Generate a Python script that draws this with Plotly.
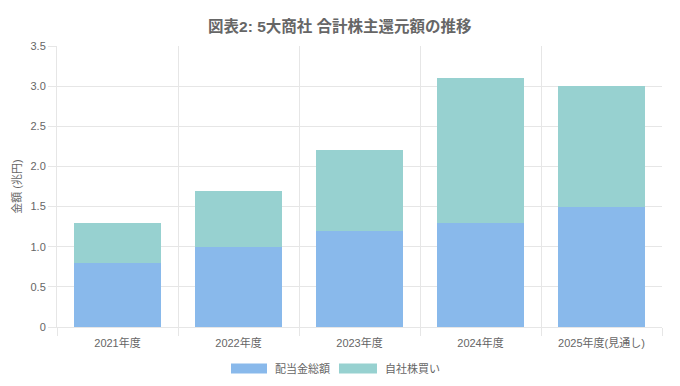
import plotly.graph_objects as go

categories = ["2021年度", "2022年度", "2023年度", "2024年度", "2025年度(見通し)"]
dividends = [0.8, 1.0, 1.2, 1.3, 1.5]
buybacks = [0.5, 0.7, 1.0, 1.8, 1.5]
y_tick_vals = [0, 0.5, 1.0, 1.5, 2.0, 2.5, 3.0, 3.5]
y_tick_text = ["0", "0.5", "1.0", "1.5", "2.0", "2.5", "3.0", "3.5"]
series_names = ["配当金総額", "自社株買い"]
series_colors = ["#89B9EB", "#97D1D0"]

FONT = "Liberation Sans, Helvetica, Arial, Noto Sans CJK JP, sans-serif"
GRID = "#e6e6e6"

fig = go.Figure()
fig.add_trace(go.Bar(x=categories, y=dividends, name=series_names[0],
                     marker=dict(color=series_colors[0], line=dict(width=0))))
fig.add_trace(go.Bar(x=categories, y=buybacks, name=series_names[1],
                     marker=dict(color=series_colors[1], line=dict(width=0))))

# custom legend (wide colour boxes like the reference)
legend_box_x = [(0.2876, 0.3471), (0.4661, 0.5289)]
legend_text_x = [0.357, 0.5388]
ly = -0.1477
for (x0, x1), tx, name, col in zip(legend_box_x, legend_text_x, series_names, series_colors):
    fig.add_shape(type="rect", xref="paper", yref="paper", x0=x0, x1=x1,
                  y0=ly - 0.018, y1=ly + 0.018, fillcolor=col, line=dict(width=0))
    fig.add_annotation(xref="paper", yref="paper", x=tx, y=ly, text=name,
                       showarrow=False, xanchor="left", yanchor="middle",
                       font=dict(size=11, color="#666", family=FONT))

fig.update_layout(
    barmode="stack",
    bargap=0.28,
    showlegend=False,
    width=680, height=386,
    margin=dict(l=49, r=26, t=38, b=67, autoexpand=False),
    paper_bgcolor="white", plot_bgcolor="white",
    font=dict(family=FONT, size=11, color="#666"),
    title=dict(text="<b>図表2: 5大商社 合計株主還元額の推移</b>",
               x=0.488, xanchor="center", y=0.951, yanchor="middle",
               xref="container", yref="container",
               font=dict(size=15.5, color="#666", family=FONT)),
    xaxis=dict(type="category", tickson="boundaries", showgrid=True, gridcolor=GRID,
               ticks="outside", ticklen=8, tickcolor=GRID, showline=True, linecolor=GRID,
               automargin=False, ticklabelstandoff=6,
               tickfont=dict(size=11, color="#666")),
    yaxis=dict(range=[0, 3.5], tickvals=y_tick_vals, ticktext=y_tick_text,
               showgrid=True, gridcolor=GRID, zeroline=False, automargin=False,
               ticks="outside", ticklen=8, tickcolor=GRID, showline=True, linecolor=GRID,
               title=dict(text="金額 (兆円)", font=dict(size=11, color="#666"), standoff=6),
               tickfont=dict(size=11, color="#666")),
)

fig.write_html("out.html")
